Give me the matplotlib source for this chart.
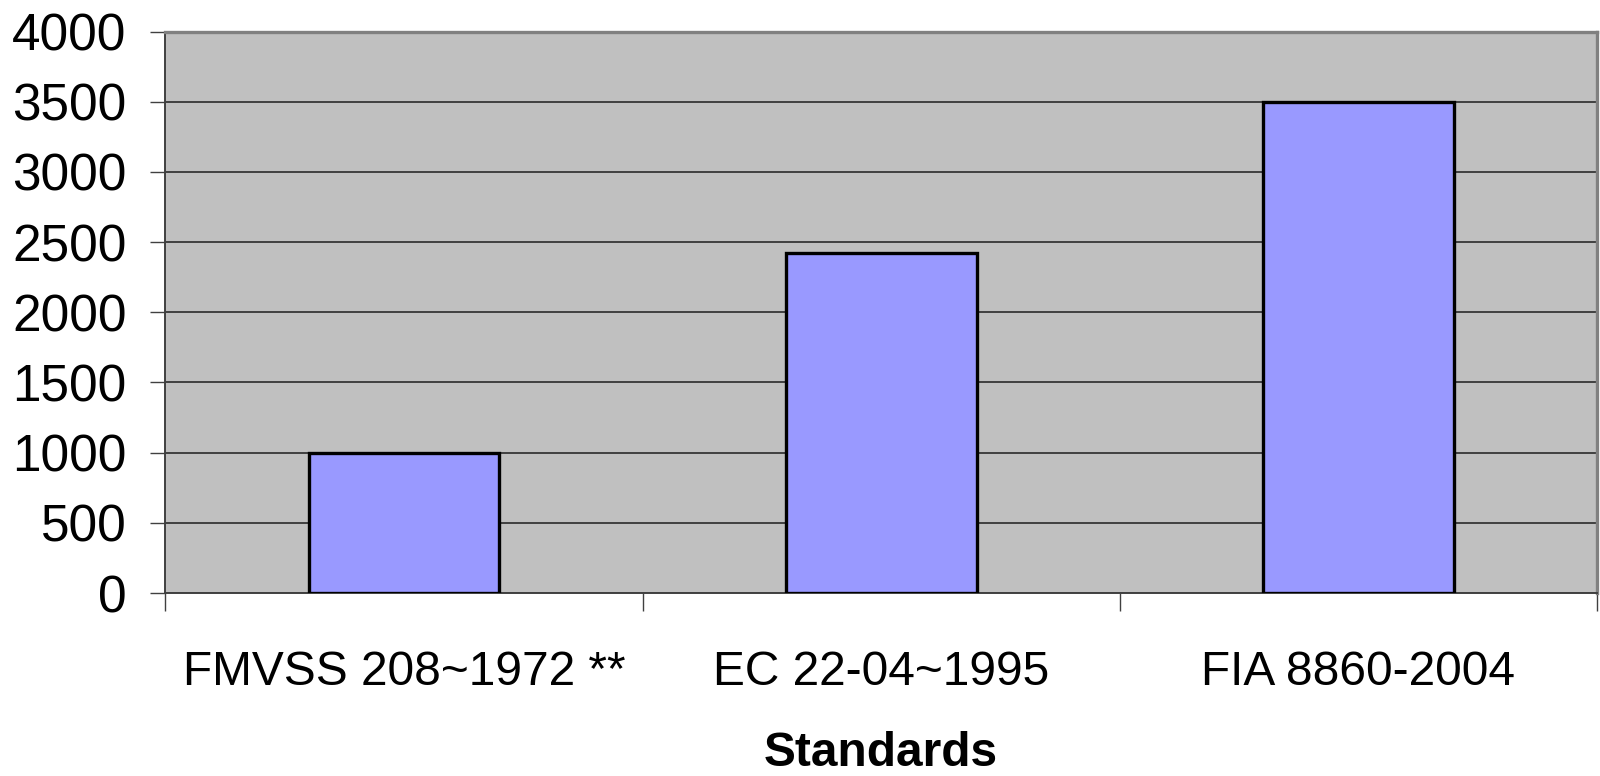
"""
Bar chart of the standards
"""

import numpy as np
import matplotlib.pyplot as plt

# data
standards = ['FMVSS 208~1972 **', 'EC 22-04~1995', 'FIA 8860-2004']
values = [1000, 2420, 3500]
y_ticks = [0, 500, 1000, 1500, 2000, 2500, 3000, 3500, 4000]

plt.rcParams['font.family'] = ['Liberation Sans', 'DejaVu Sans']

# new figure for plot
fig = plt.figure(figsize=(16, 7.76), dpi=100)
ax = fig.add_axes([0.1034, 0.2358, 0.8946, 0.7236])
ax.set_facecolor('#c0c0c0')

x = np.arange(len(standards))
ax.bar(x, values, width=0.4, color='#9999ff', edgecolor='black', linewidth=2.4, zorder=3)

# axis limits and ticks
ax.set_xlim(-0.5, len(standards) - 0.5)
ax.set_ylim(0, 4000)
ax.set_yticks(y_ticks)
ax.set_yticklabels([str(v) for v in y_ticks], fontsize=37)
ax.set_xticks(x)
ax.set_xticklabels(standards, fontsize=34.5)
ax.set_xticks(np.arange(len(standards) + 1) - 0.5, minor=True)
ax.tick_params(axis='x', which='major', length=0, pad=41)
ax.tick_params(axis='x', which='minor', length=13, width=1.0, color='#404040')
ax.tick_params(axis='y', length=11, width=1.0, color='#404040', pad=17)

# grid lines
ax.yaxis.grid(True, color='#2a2a2a', linewidth=1.2, zorder=1)
ax.set_axisbelow(True)

# plot border
for side in ['top', 'right']:
    ax.spines[side].set_color('#808080')
    ax.spines[side].set_linewidth(2.4)
for side in ['left', 'bottom']:
    ax.spines[side].set_color('#404040')
    ax.spines[side].set_linewidth(1.4)

ax.set_xlabel('Standards', fontsize=34.5, fontweight='bold', labelpad=26)

fig.savefig('out.png', dpi=100)
plt.close(fig)
